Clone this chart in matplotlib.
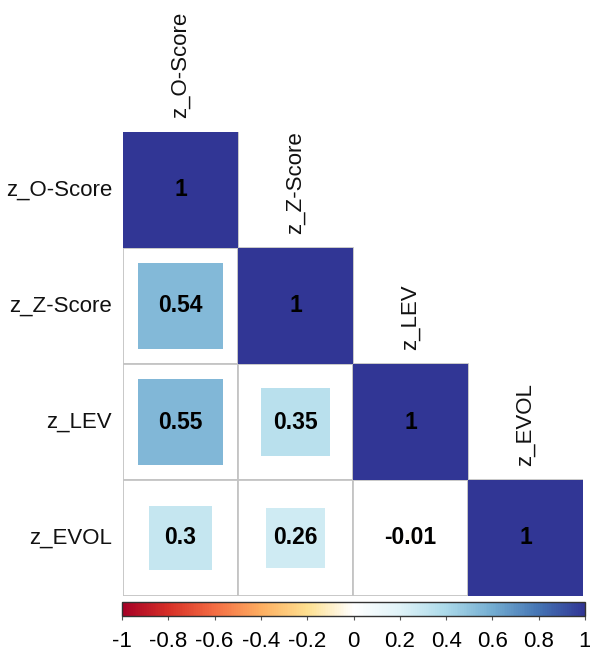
import numpy as np
import matplotlib.pyplot as plt
from matplotlib.patches import Rectangle
from matplotlib.colors import LinearSegmentedColormap, Normalize
from matplotlib.cm import ScalarMappable

plt.rcParams['font.family'] = ['Liberation Sans', 'DejaVu Sans']

# Variables and lower-triangle correlations (row-wise)
variables = ["z_O-Score", "z_Z-Score", "z_LEV", "z_EVOL"]
corr_rows = [
    [1.00],
    [0.54, 1.00],
    [0.55, 0.35, 1.00],
    [0.30, 0.26, -0.01, 1.00],
]
cbar_ticks = [-1, -0.8, -0.6, -0.4, -0.2, 0, 0.2, 0.4, 0.6, 0.8, 1]
cbar_labels = ["-1", "-0.8", "-0.6", "-0.4", "-0.2", "0", "0.2", "0.4", "0.6", "0.8", "1"]

# red-yellow-white-blue diverging palette
palette = ['#A50026', '#D73027', '#F46D43', '#FDAE61', '#FEE090', '#FFFFFF',
           '#E0F3F8', '#ABD9E9', '#74ADD1', '#4575B4', '#313695']
cmap = LinearSegmentedColormap.from_list("rdylbu_w", palette, N=256)
norm = Normalize(vmin=-1, vmax=1)

W, H = 590, 652
fig = plt.figure(figsize=(W / 100, H / 100), dpi=100)

def px_axes(x0, y0, x1, y1):
    return fig.add_axes([x0 / W, 1 - y1 / H, (x1 - x0) / W, (y1 - y0) / H])

ax = px_axes(123, 132, 583, 596)
n = len(variables)
ax.set_xlim(0, n)
ax.set_ylim(n, 0)
ax.axis("off")

grid_col = "#C4C4C4"
for i, row in enumerate(corr_rows):
    for j, r in enumerate(row):
        ax.add_patch(Rectangle((j, i), 1, 1, facecolor="white", edgecolor=grid_col,
                               linewidth=1.3, zorder=1))
        side = np.sqrt(abs(r))
        off = (1 - side) / 2
        ax.add_patch(Rectangle((j + off, i + off), side, side, facecolor=cmap(norm(r)),
                               edgecolor="none", zorder=2))
        ax.text(j + 0.5, i + 0.5, f"{r:g}", ha="center", va="center",
                fontsize=16.5, fontweight="bold", color="black", zorder=3)

# row labels on the left, column labels above the diagonal
for i, name in enumerate(variables):
    ax.annotate(name, xy=(0, i + 0.5), xytext=(-8, 0), textcoords="offset points",
                ha="right", va="center", fontsize=16, color="#111111",
                annotation_clip=False)
    ax.annotate(name, xy=(i + 0.5, i), xytext=(0, 10), textcoords="offset points",
                ha="center", va="bottom", rotation=90, fontsize=16, color="#111111",
                annotation_clip=False)

# colour legend along the bottom
cax = px_axes(122, 602, 585, 616)
cb = fig.colorbar(ScalarMappable(norm=norm, cmap=cmap), cax=cax, orientation="horizontal")
cb.set_ticks(cbar_ticks)
cb.set_ticklabels(cbar_labels)
cb.outline.set_edgecolor("#333333")
cb.outline.set_linewidth(1.0)
cax.tick_params(axis="x", length=3, width=0.8, color="#555555", labelsize=16, pad=8)

fig.savefig("out.png", dpi=100)
